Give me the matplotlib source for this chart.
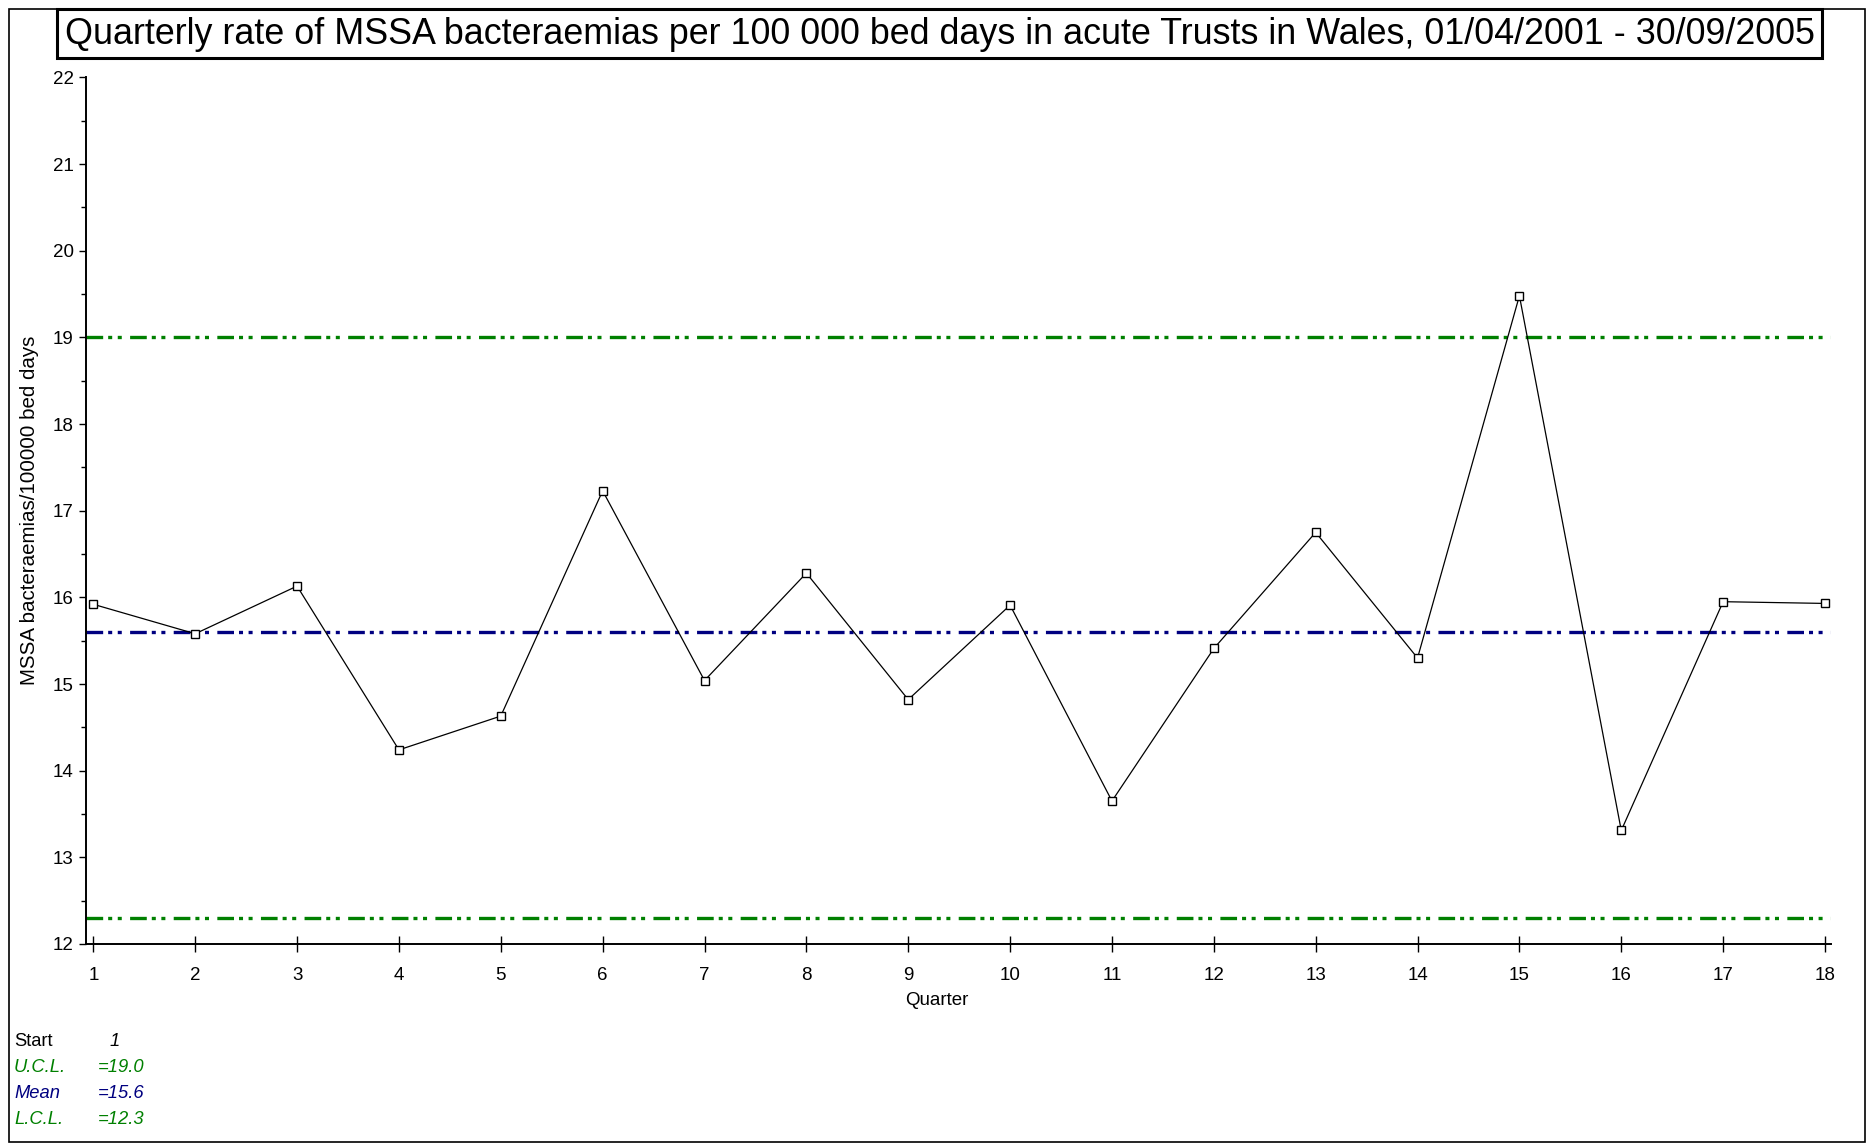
import matplotlib
matplotlib.use("Agg")
import matplotlib.pyplot as plt
from matplotlib.patches import Rectangle
from matplotlib.ticker import MultipleLocator

plt.rcParams['font.family'] = ['Liberation Sans', 'DejaVu Sans']
plt.rcParams['lines.scale_dashes'] = False

# ---- data ----
quarters = list(range(1, 19))
rates = [15.92, 15.58, 16.13, 14.24, 14.63, 17.23, 15.04, 16.28, 14.82,
         15.91, 13.65, 15.41, 16.75, 15.30, 19.48, 13.31, 15.95, 15.93]
ucl = 19.0
mean = 15.6
lcl = 12.3
title = ("Quarterly rate of MSSA bacteraemias per 100 000 bed days in acute "
         "Trusts in Wales, 01/04/2001 - 30/09/2005")
ylabel = "MSSA bacteraemias/100000 bed days"
xlabel = "Quarter"
legend_labels = ["Start", "U.C.L.", "Mean", "L.C.L."]
legend_values = ["1", "=19.0", "=15.6", "=12.3"]

W, H = 1868, 1144
fig = plt.figure(figsize=(W / 100, H / 100), dpi=100)
fig.patch.set_facecolor('white')


def fx(px):
    return px / W


def fy(py):
    return 1 - py / H


ax = fig.add_axes([fx(86), fy(944), fx(1831) - fx(86), fy(77.4) - fy(944)])

green = '#008000'
navy = '#000080'
dash = (0, (12, 3.6, 2.9, 4.0, 2.9, 6.0))

ax.axhline(ucl, color=green, lw=2.4, linestyle=dash, zorder=2)
ax.axhline(lcl, color=green, lw=2.4, linestyle=dash, zorder=2)
ax.axhline(mean, color=navy, lw=2.4, linestyle=dash, zorder=2)

ax.plot(quarters, rates, color='black', lw=0.9, marker='s', markersize=5.5,
        markerfacecolor='white', markeredgecolor='black', markeredgewidth=1.0,
        zorder=3)

ax.set_xlim(0.928, 18.059)
ax.set_ylim(12, 22)
ax.set_xticks(quarters)
ax.yaxis.set_major_locator(MultipleLocator(1))
ax.yaxis.set_minor_locator(MultipleLocator(0.5))

for s in ['top', 'right']:
    ax.spines[s].set_visible(False)
for s in ['left', 'bottom']:
    ax.spines[s].set_linewidth(1.4)

ax.tick_params(axis='y', which='major', direction='out', length=5, width=1,
               labelsize=13.5, pad=4)
ax.tick_params(axis='y', which='minor', direction='out', length=3.5, width=1)
ax.tick_params(axis='x', which='major', direction='inout', length=11.5, width=1,
               labelsize=13.5, pad=11)

ax.set_xlabel(xlabel, fontsize=13.5)
ax.xaxis.set_label_coords((937 - 86) / (1831 - 86), -0.0555)
ax.set_ylabel(ylabel, fontsize=14.8, labelpad=10)

# title with box
fig.text(fx(940), fy(35), title, fontsize=25.8, ha='center', va='center')
fig.patches.append(Rectangle((fx(57), fy(58)), fx(1822) - fx(57), fy(9) - fy(58),
                             transform=fig.transFigure, fill=False,
                             edgecolor='black', lw=2.2))
# figure frame
fig.patches.append(Rectangle((fx(9), fy(1142)), fx(1865) - fx(9), fy(9) - fy(1142),
                             transform=fig.transFigure, fill=False,
                             edgecolor='black', lw=1.2))

# control limit legend text
colors = ['black', green, navy, green]
ys = [1041, 1068, 1094, 1120]
for lab, val, c, yy in zip(legend_labels, legend_values, colors, ys):
    style = 'normal' if lab == 'Start' else 'italic'
    fig.text(fx(14), fy(yy), lab, color=c, fontsize=13.2, style=style,
             ha='left', va='center')
    xv = 110 if lab == 'Start' else 98
    fig.text(fx(xv), fy(yy), val, color=c, fontsize=13.2, style='italic',
             ha='left', va='center')

fig.savefig('out.png', dpi=100)
